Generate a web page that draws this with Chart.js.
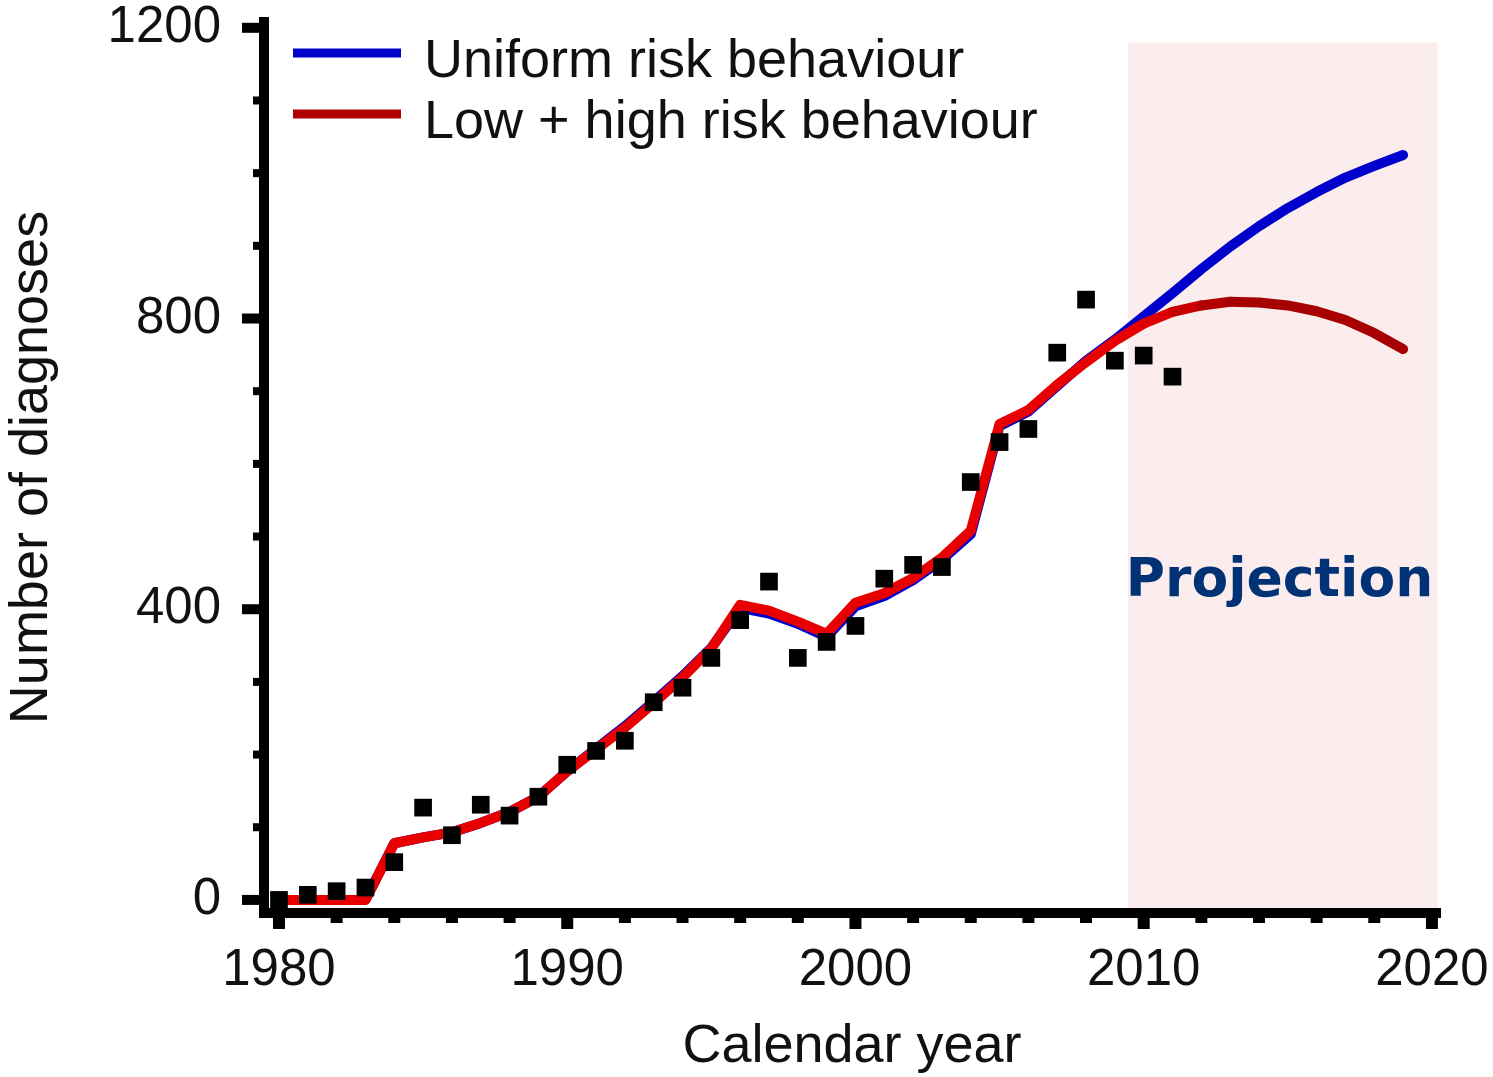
<!DOCTYPE html>
<html lang="en">
<head>
<meta charset="UTF-8">
<title>Number of diagnoses</title>
<script src="https://cdn.jsdelivr.net/npm/chart.js"></script>
<style>
  html, body { margin: 0; padding: 0; background: #fff; }
  #wrap { width: 1493px; height: 1077px; position: relative; }
</style>
</head>
<body>
<div id="wrap"><canvas id="diagChart"></canvas></div>
<script>
  // observed diagnoses (black squares)
  const obsYears = [1980, 1981, 1982, 1983, 1984, 1985, 1986, 1987, 1988, 1989,
                    1990, 1991, 1992, 1993, 1994, 1995, 1996, 1997, 1998, 1999,
                    2000, 2001, 2002, 2003, 2004, 2005, 2006, 2007, 2008, 2009,
                    2010, 2011];
  const obsCounts = [0, 7, 12, 17, 52, 127, 89, 131, 116, 142,
                     186, 205, 219, 272, 292, 333, 385, 438, 333, 355,
                     377, 442, 461, 458, 575, 630, 648, 753, 826, 742,
                     749, 720];

  // model fits + projection
  const modelYears = [1980, 1981, 1982, 1983, 1984, 1985, 1986, 1987, 1988, 1989,
                      1990, 1991, 1992, 1993, 1994, 1995, 1996, 1997, 1998, 1999,
                      2000, 2001, 2002, 2003, 2004, 2005, 2006, 2007, 2008, 2009,
                      2010, 2011, 2012, 2013, 2014, 2015, 2016, 2017, 2018, 2019];
  const uniformRisk = [0, 0, 0, 0, 78, 86, 93, 106, 121, 142,
                       177, 208, 239, 273, 308, 347, 402, 394, 380, 362,
                       404, 418, 440, 468, 503, 652, 672, 707, 742, 771,
                       803, 835, 868, 899, 927, 952, 974, 994, 1010, 1025];
  const lowHighRisk = [0, 0, 0, 0, 78, 86, 93, 106, 121, 142,
                       177, 207, 237, 271, 306, 346, 406, 398, 383, 366,
                       409, 422, 443, 471, 508, 655, 674, 709, 740, 769,
                       793, 809, 818, 823, 822, 818, 810, 798, 780, 758];

  const seriesNames = ['Uniform risk behaviour', 'Low + high risk behaviour'];

  const xLabelTicks = [1980, 1990, 2000, 2010, 2020];
  const xMinorTicks = [1982, 1984, 1986, 1988, 1992, 1994, 1996, 1998,
                       2002, 2004, 2006, 2008, 2012, 2014, 2016, 2018];
  const yLabelTicks = [0, 400, 800, 1200];
  const yMinorTicks = [100, 200, 300, 500, 600, 700, 900, 1000, 1100];

  const projectionSpan = [2009.45, 2020.2];
  const projectionTop = 1180;
  const projectionLabel = 'Projection';

  const FONT = "'Liberation Sans', Arial, sans-serif";
  const BLUE = '#0000cc';

  function redShade(year) {
    // bright red over the fitted years, darker red through the projection
    const t = Math.min(Math.max((year - 2009.5) / 3, 0), 1);
    return `rgb(${Math.round(232 - t * 65)},0,0)`;
  }

  const extras = {
    id: 'extras',
    beforeDraw(chart) {
      const {ctx, chartArea, scales: {x, y}} = chart;
      const left = x.getPixelForValue(projectionSpan[0]);
      const right = x.getPixelForValue(projectionSpan[1]);
      const top = y.getPixelForValue(projectionTop);
      ctx.save();
      ctx.fillStyle = '#fbeded';
      ctx.fillRect(left, top, right - left, chartArea.bottom - 5 - top);
      ctx.restore();
    },
    beforeDatasetsDraw(chart) {
      const {ctx, chartArea, scales: {x, y}} = chart;
      ctx.save();
      ctx.fillStyle = '#000';
      xMinorTicks.forEach(v => ctx.fillRect(x.getPixelForValue(v) - 6, chartArea.bottom, 12, 10));
      xLabelTicks.forEach(v => ctx.fillRect(x.getPixelForValue(v) - 6, chartArea.bottom, 12, 16));
      yMinorTicks.forEach(v => ctx.fillRect(chartArea.left - 11, y.getPixelForValue(v) - 4, 11, 8));
      yLabelTicks.forEach(v => ctx.fillRect(chartArea.left - 22, y.getPixelForValue(v) - 5, 22, 10));
      ctx.fillRect(chartArea.left - 5, chartArea.bottom - 5, 10, 10);
      ctx.restore();
    },
    afterDraw(chart) {
      const {ctx, scales: {x, y}} = chart;
      ctx.save();
      // legend
      const rows = [{c: BLUE, y: 53}, {c: '#b00000', y: 114}];
      rows.forEach((r, i) => {
        ctx.strokeStyle = r.c;
        ctx.lineWidth = 9;
        ctx.beginPath();
        ctx.moveTo(293, r.y);
        ctx.lineTo(401, r.y);
        ctx.stroke();
        ctx.fillStyle = '#111';
        ctx.font = `54px ${FONT}`;
        ctx.textBaseline = 'alphabetic';
        ctx.fillText(seriesNames[i], 424, r.y + 24);
      });
      // projection label
      ctx.fillStyle = '#003275';
      ctx.font = "bold 53.5px 'DejaVu Sans', Verdana, sans-serif";
      ctx.textAlign = 'left';
      ctx.fillText(projectionLabel, x.getPixelForValue(projectionSpan[0]) - 2, y.getPixelForValue(418));
      ctx.restore();
    }
  };

  const ctx = document.getElementById('diagChart').getContext('2d');
  new Chart(ctx, {
    type: 'line',
    data: {
      datasets: [
        {
          label: 'Observed',
          data: obsYears.map((yr, i) => ({x: yr, y: obsCounts[i]})),
          showLine: false,
          pointStyle: 'rect',
          pointRadius: 12.5,
          pointBackgroundColor: '#000',
          pointBorderWidth: 0
        },
        {
          label: seriesNames[1],
          data: modelYears.map((yr, i) => ({x: yr, y: lowHighRisk[i]})),
          borderColor: '#e80000',
          segment: { borderColor: c => redShade(c.p0.parsed.x) },
          borderWidth: 10,
          borderCapStyle: 'round',
          borderJoinStyle: 'round',
          pointRadius: 0,
          tension: 0
        },
        {
          label: seriesNames[0],
          data: modelYears.map((yr, i) => ({x: yr, y: uniformRisk[i]})),
          borderColor: BLUE,
          borderWidth: 10,
          borderCapStyle: 'round',
          borderJoinStyle: 'round',
          pointRadius: 0,
          tension: 0
        }
      ]
    },
    options: {
      responsive: true,
      maintainAspectRatio: false,
      animation: false,
      layout: { padding: { top: 22, right: 53, left: 0, bottom: 0 } },
      plugins: { legend: { display: false }, tooltip: { enabled: false } },
      scales: {
        x: {
          type: 'linear',
          min: 1979.48,
          max: 2020.28,
          grid: { display: false, drawTicks: false },
          border: { display: true, color: '#000', width: 10 },
          afterBuildTicks: s => { s.ticks = xLabelTicks.map(v => ({value: v})); },
          afterFit: s => { s.height = 164; s.paddingLeft = 0; s.paddingRight = 0; },
          ticks: {
            callback: v => String(v),
            color: '#111',
            padding: 27,
            maxRotation: 0,
            autoSkip: false,
            font: { family: FONT, size: 51 }
          },
          title: {
            display: true,
            text: 'Calendar year',
            color: '#111',
            padding: { top: 0, bottom: 0 },
            font: { family: FONT, size: 54, lineHeight: 1.1 }
          }
        },
        y: {
          min: -18,
          max: 1208,
          grid: { display: false, drawTicks: false },
          border: { display: true, color: '#000', width: 10 },
          afterBuildTicks: s => { s.ticks = yLabelTicks.map(v => ({value: v})); },
          afterFit: s => { s.width = 264; s.paddingTop = 0; s.paddingBottom = 0; },
          ticks: {
            callback: v => String(v),
            color: '#111',
            padding: 43,
            font: { family: FONT, size: 51 }
          },
          title: {
            display: true,
            text: 'Number of diagnoses',
            color: '#111',
            padding: { top: 0, bottom: 0 },
            font: { family: FONT, size: 54 }
          }
        }
      }
    },
    plugins: [extras]
  });
</script>
</body>
</html>
